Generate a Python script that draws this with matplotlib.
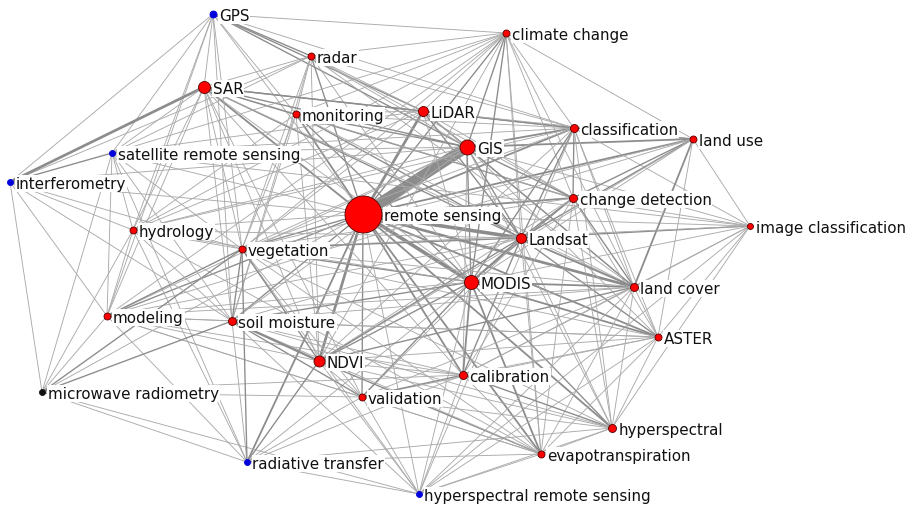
import matplotlib
matplotlib.use("Agg")
import matplotlib.pyplot as plt

plt.rcParams['font.family'] = ['DejaVu Sans']

# nodes: label, x, y (pixel layout), radius (px), colour group
labels = ['remote sensing', 'GIS', 'MODIS', 'Landsat', 'LiDAR', 'SAR', 'NDVI',
          'climate change', 'classification', 'land use', 'change detection',
          'image classification', 'land cover', 'ASTER', 'calibration', 'validation',
          'hyperspectral', 'evapotranspiration', 'hyperspectral remote sensing',
          'radiative transfer', 'microwave radiometry', 'modeling', 'soil moisture',
          'vegetation', 'hydrology', 'interferometry', 'satellite remote sensing',
          'GPS', 'radar', 'monitoring']
keys = ['RS', 'GIS', 'MODIS', 'LS', 'LID', 'SAR', 'NDVI',
        'CC', 'CL', 'LU', 'CD',
        'IC', 'LC', 'AS', 'CAL', 'VAL',
        'HYP', 'ET', 'HRS',
        'RT', 'MR', 'MOD', 'SM',
        'VEG', 'HYD', 'INT', 'SRS',
        'GPS', 'RAD', 'MON']
xs = [363, 467, 471, 521, 423, 204, 319,
      506, 574, 693, 573,
      750, 634, 658, 463, 362,
      612, 541, 419,
      247, 42, 107, 232,
      242, 133, 10, 112,
      213, 311, 296]
ys = [215, 148, 283, 239, 112, 88, 362,
      34, 129, 140, 199,
      227, 288, 338, 376, 398,
      429, 455, 495,
      463, 393, 317, 322,
      250, 231, 183, 154,
      15, 57, 115]
radius = [18.5, 7.5, 7, 5, 5, 6, 5.5,
          3.5, 4, 3.5, 4,
          3, 4, 3.5, 4, 3.5,
          4, 3.5, 3,
          3, 3, 3.5, 4,
          3.5, 3.5, 3, 3,
          3.5, 3.5, 3.5]
group = ['r'] * 18 + ['b', 'b', 'k'] + ['r'] * 4 + ['b', 'b', 'b'] + ['r', 'r']

# edges: (node, node, co-occurrence weight)
edges = [
    ('RS', 'GIS', 12), ('RS', 'MODIS', 4), ('RS', 'LS', 4), ('RS', 'LID', 3),
    ('RS', 'SAR', 2), ('RS', 'NDVI', 3), ('RS', 'CD', 2), ('RS', 'CL', 2),
    ('RS', 'LC', 3), ('RS', 'AS', 2), ('RS', 'HYP', 2), ('RS', 'CAL', 2),
    ('RS', 'VAL', 1.5), ('RS', 'ET', 2), ('RS', 'VEG', 1.5), ('RS', 'SM', 1.5),
    ('RS', 'HYD', 1), ('RS', 'MOD', 1.5), ('RS', 'INT', 1), ('RS', 'SRS', 1),
    ('RS', 'GPS', 1), ('RS', 'RAD', 1.5), ('RS', 'MON', 2), ('RS', 'CC', 1.5),
    ('RS', 'LU', 2), ('RS', 'IC', 1), ('RS', 'HRS', 1), ('RS', 'RT', 2),
    ('RS', 'MR', 1),
    ('GPS', 'SAR', 1), ('GPS', 'RAD', 1.5), ('GPS', 'MON', 1), ('GPS', 'INT', 1),
    ('GPS', 'SRS', 1), ('GPS', 'CC', 1), ('GPS', 'LID', 1.5), ('GPS', 'GIS', 1.5),
    ('GPS', 'HYD', 1), ('GPS', 'VEG', 1), ('GPS', 'SM', 1), ('GPS', 'CL', 1),
    ('GPS', 'MOD', 1),
    ('RAD', 'SAR', 1), ('RAD', 'MON', 1), ('RAD', 'LID', 1), ('RAD', 'GIS', 1),
    ('RAD', 'CL', 1), ('RAD', 'CC', 1), ('RAD', 'SRS', 1), ('RAD', 'INT', 1),
    ('RAD', 'VEG', 1), ('RAD', 'SM', 1), ('RAD', 'NDVI', 1), ('RAD', 'CD', 1),
    ('RAD', 'LC', 1), ('RAD', 'MODIS', 1),
    ('SAR', 'INT', 3), ('SAR', 'SRS', 1), ('SAR', 'MON', 1), ('SAR', 'LID', 1.5),
    ('SAR', 'GIS', 1.5), ('SAR', 'CL', 1.5), ('SAR', 'CD', 1.5), ('SAR', 'LS', 1.5),
    ('SAR', 'VEG', 1), ('SAR', 'SM', 1), ('SAR', 'HYD', 1), ('SAR', 'MOD', 1),
    ('SAR', 'MODIS', 1), ('SAR', 'CAL', 1), ('SAR', 'VAL', 1), ('SAR', 'NDVI', 1),
    ('SAR', 'LC', 1),
    ('MON', 'LID', 1), ('MON', 'GIS', 1.5), ('MON', 'CL', 1), ('MON', 'CC', 1),
    ('MON', 'VEG', 1), ('MON', 'SM', 1), ('MON', 'HYD', 1), ('MON', 'LS', 1.5),
    ('MON', 'MODIS', 1.5), ('MON', 'NDVI', 1), ('MON', 'LC', 1), ('MON', 'CD', 1),
    ('LID', 'GIS', 1.5), ('LID', 'CL', 1.5), ('LID', 'CC', 1), ('LID', 'LU', 1),
    ('LID', 'CD', 1), ('LID', 'LS', 1.5), ('LID', 'MODIS', 1), ('LID', 'VEG', 1),
    ('LID', 'HYD', 1), ('LID', 'SRS', 1), ('LID', 'LC', 1),
    ('CC', 'GIS', 1.5), ('CC', 'CL', 1), ('CC', 'LU', 1), ('CC', 'CD', 1),
    ('CC', 'LS', 1), ('CC', 'MODIS', 1.5), ('CC', 'LC', 1), ('CC', 'VEG', 1),
    ('CC', 'NDVI', 1), ('CC', 'SRS', 1), ('CC', 'HYD', 1), ('CC', 'MOD', 1),
    ('CC', 'ET', 1),
    ('GIS', 'CL', 2), ('GIS', 'LU', 2), ('GIS', 'CD', 1.5), ('GIS', 'LS', 1.5),
    ('GIS', 'MODIS', 1.5), ('GIS', 'LC', 1.5), ('GIS', 'IC', 1), ('GIS', 'HYD', 1),
    ('GIS', 'VEG', 1), ('GIS', 'MOD', 1), ('GIS', 'SM', 1), ('GIS', 'INT', 1),
    ('GIS', 'SRS', 1), ('GIS', 'AS', 1), ('GIS', 'HYP', 1), ('GIS', 'CAL', 1),
    ('CL', 'LU', 1.5), ('CL', 'CD', 1.5), ('CL', 'LS', 1.5), ('CL', 'MODIS', 1.5),
    ('CL', 'LC', 1), ('CL', 'IC', 1), ('CL', 'AS', 1), ('CL', 'HYP', 1),
    ('CL', 'VEG', 1), ('CL', 'NDVI', 1), ('CL', 'SRS', 1), ('CL', 'HYD', 1),
    ('CL', 'HRS', 1),
    ('LU', 'CD', 1.5), ('LU', 'LC', 2), ('LU', 'LS', 1.5), ('LU', 'MODIS', 1),
    ('LU', 'IC', 1), ('LU', 'AS', 1), ('LU', 'VEG', 1), ('LU', 'NDVI', 1),
    ('LU', 'MOD', 1),
    ('CD', 'LS', 1.5), ('CD', 'MODIS', 1.5), ('CD', 'LC', 1.5), ('CD', 'IC', 1),
    ('CD', 'AS', 1), ('CD', 'HYP', 1), ('CD', 'NDVI', 1), ('CD', 'VEG', 1),
    ('CD', 'CAL', 1), ('CD', 'ET', 1),
    ('IC', 'LS', 1.5), ('IC', 'MODIS', 1), ('IC', 'LC', 1), ('IC', 'AS', 1),
    ('IC', 'HYP', 1), ('IC', 'HRS', 1), ('IC', 'CAL', 1), ('IC', 'VEG', 1),
    ('IC', 'SRS', 1),
    ('LS', 'MODIS', 2), ('LS', 'LC', 2), ('LS', 'AS', 1.5), ('LS', 'HYP', 1),
    ('LS', 'CAL', 1.5), ('LS', 'VAL', 1), ('LS', 'NDVI', 1.5), ('LS', 'VEG', 1.5),
    ('LS', 'ET', 1), ('LS', 'SM', 1), ('LS', 'HYD', 1), ('LS', 'MOD', 1),
    ('MODIS', 'LC', 2), ('MODIS', 'AS', 2), ('MODIS', 'HYP', 1.5), ('MODIS', 'CAL', 2),
    ('MODIS', 'VAL', 1.5), ('MODIS', 'NDVI', 1.5), ('MODIS', 'SM', 1.5),
    ('MODIS', 'VEG', 1.5), ('MODIS', 'ET', 2), ('MODIS', 'MOD', 1), ('MODIS', 'HYD', 1),
    ('MODIS', 'RT', 1), ('MODIS', 'HRS', 1),
    ('LC', 'AS', 1), ('LC', 'HYP', 1), ('LC', 'CAL', 1), ('LC', 'VAL', 1),
    ('LC', 'NDVI', 1.5), ('LC', 'VEG', 1), ('LC', 'ET', 1), ('LC', 'MOD', 1),
    ('LC', 'SM', 1), ('LC', 'HRS', 1),
    ('AS', 'HYP', 1), ('AS', 'CAL', 1), ('AS', 'VAL', 1), ('AS', 'NDVI', 1),
    ('AS', 'ET', 1), ('AS', 'HRS', 1), ('AS', 'VEG', 1), ('AS', 'SM', 1),
    ('AS', 'MOD', 1),
    ('CAL', 'VAL', 1.5), ('CAL', 'NDVI', 1), ('CAL', 'HYP', 1.5), ('CAL', 'ET', 1),
    ('CAL', 'RT', 1), ('CAL', 'HRS', 1), ('CAL', 'SM', 1), ('CAL', 'MR', 1),
    ('CAL', 'MOD', 1),
    ('VAL', 'NDVI', 1), ('VAL', 'HYP', 1), ('VAL', 'ET', 1), ('VAL', 'RT', 1),
    ('VAL', 'HRS', 1), ('VAL', 'SM', 1.5), ('VAL', 'MOD', 1), ('VAL', 'VEG', 1),
    ('VAL', 'MR', 1),
    ('HYP', 'ET', 1), ('HYP', 'HRS', 1), ('HYP', 'RT', 1), ('HYP', 'NDVI', 1),
    ('HYP', 'VEG', 1), ('HYP', 'SM', 1),
    ('ET', 'NDVI', 1.5), ('ET', 'SM', 1), ('ET', 'VEG', 1), ('ET', 'MOD', 1),
    ('ET', 'HYD', 1), ('ET', 'HRS', 1), ('ET', 'RT', 1),
    ('HRS', 'RT', 1), ('HRS', 'NDVI', 1), ('HRS', 'VEG', 1), ('HRS', 'SM', 1),
    ('HRS', 'MR', 1),
    ('RT', 'SM', 1), ('RT', 'MR', 1), ('RT', 'MOD', 1), ('RT', 'NDVI', 1.5),
    ('RT', 'VEG', 1.5), ('RT', 'HYD', 1), ('RT', 'SRS', 1),
    ('MR', 'SM', 1.5), ('MR', 'MOD', 1), ('MR', 'INT', 1), ('MR', 'SRS', 1),
    ('MR', 'HYD', 1), ('MR', 'VEG', 1.5),
    ('MOD', 'SM', 1), ('MOD', 'VEG', 1.5), ('MOD', 'HYD', 1), ('MOD', 'INT', 1),
    ('MOD', 'SRS', 1), ('MOD', 'NDVI', 1),
    ('SM', 'VEG', 1.5), ('SM', 'HYD', 1), ('SM', 'NDVI', 2.5), ('SM', 'SRS', 1),
    ('SM', 'INT', 1),
    ('VEG', 'HYD', 1), ('VEG', 'NDVI', 1.5), ('VEG', 'SRS', 1), ('VEG', 'INT', 1),
    ('HYD', 'INT', 1), ('HYD', 'SRS', 1),
    ('SRS', 'INT', 1.5),
]

pos = {k: (x, y) for k, x, y in zip(keys, xs, ys)}
colours = {'r': '#ff0000', 'b': '#0000dd', 'k': '#111111'}

fig = plt.figure(figsize=(9.14, 5.10), dpi=100)
ax = fig.add_axes([0, 0, 1, 1])
ax.set_xlim(0, 914)
ax.set_ylim(510, 0)
ax.axis('off')

px = 0.72  # points per pixel at 100 dpi
for a, b, w in edges:
    (x1, y1), (x2, y2) = pos[a], pos[b]
    col = '#aaaaaa' if w <= 1 else '#8c8c8c'
    ax.plot([x1, x2], [y1, y2], color=col, lw=w * 0.9 * px,
            solid_capstyle='butt', zorder=1)

for lab, x, y, r, g in zip(labels, xs, ys, radius, group):
    ax.scatter([x], [y], s=(2 * r * px) ** 2, color=colours[g],
               edgecolors='#550000' if g == 'r' else colours[g],
               linewidths=0.6, zorder=3)
    ax.text(x + r + 2.5, y + 1.5, lab, fontsize=10.9, color='#111111',
            ha='left', va='center', zorder=2,
            bbox=dict(facecolor='white', edgecolor='none', pad=0.6))

fig.savefig('out.png', dpi=100, facecolor='white')
